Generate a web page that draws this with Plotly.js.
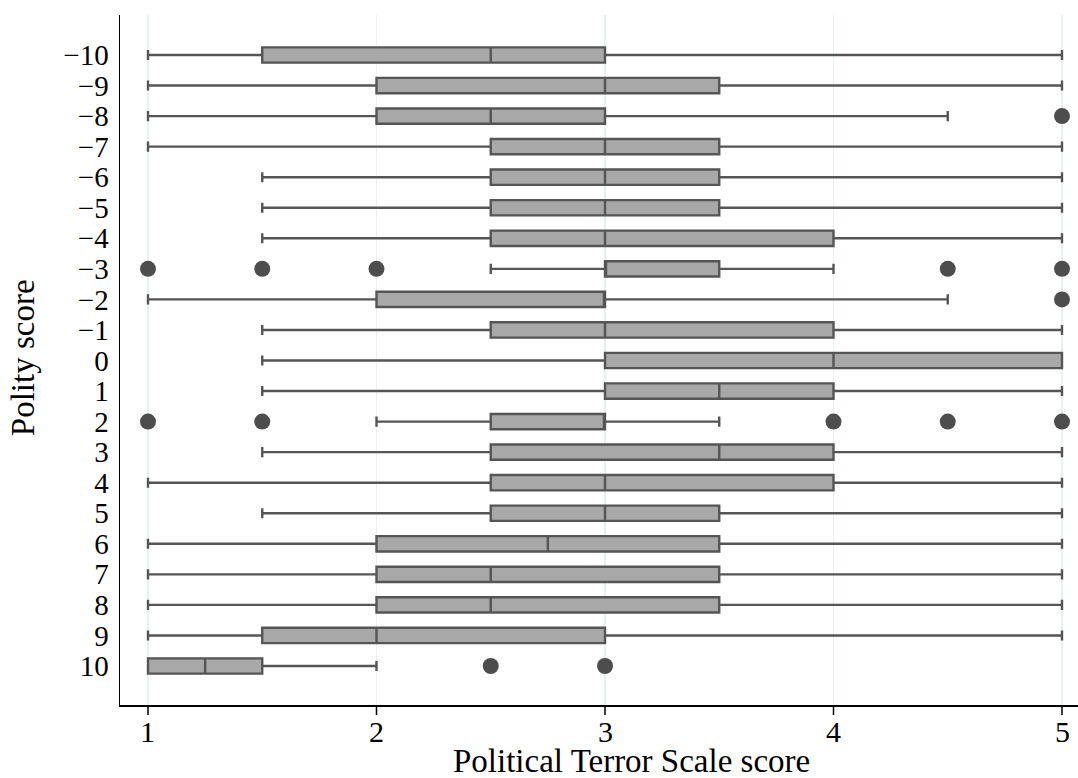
<!DOCTYPE html>
<html>
<head>
<meta charset="utf-8">
<script src="https://cdn.plot.ly/plotly-3.0.1.min.js"></script>
<style>html,body{margin:0;padding:0;background:#fff;}#chart{width:1078px;height:778px;}</style>
</head>
<body>
<div id="chart"></div>
<script>
// Polity scores (rows) and their box statistics on the Political Terror Scale
var polity = [-10, -9, -8, -7, -6, -5, -4, -3, -2, -1, 0, 1, 2, 3, 4, 5, 6, 7, 8, 9, 10];
var lowerFence = [1, 1, 1, 1, 1.5, 1.5, 1.5, 2.5, 1, 1.5, 1.5, 1.5, 2, 1.5, 1, 1.5, 1, 1, 1, 1, 1];
var q1Values   = [1.5, 2, 2, 2.5, 2.5, 2.5, 2.5, 3, 2, 2.5, 3, 3, 2.5, 2.5, 2.5, 2.5, 2, 2, 2, 1.5, 1];
var medians    = [2.5, 3, 2.5, 3, 3, 3, 3, 3, 3, 3, 4, 3.5, 3, 3.5, 3, 3, 2.75, 2.5, 2.5, 2, 1.25];
var q3Values   = [3, 3.5, 3, 3.5, 3.5, 3.5, 4, 3.5, 3, 4, 5, 4, 3, 4, 4, 3.5, 3.5, 3.5, 3.5, 3, 1.5];
var upperFence = [5, 5, 4.5, 5, 5, 5, 5, 4, 4.5, 5, 5, 5, 3.5, 5, 5, 5, 5, 5, 5, 5, 2];

// Outliers
var outlierPolity = [-8, -3, -3, -3, -3, -3, -2, 2, 2, 2, 2, 2, 10, 10];
var outlierPTS    = [5, 1, 1.5, 2, 4.5, 5, 5, 1, 1.5, 4, 4.5, 5, 2.5, 3];

var tickVals = polity;
var tickText = ["\u221210", "\u22129", "\u22128", "\u22127", "\u22126", "\u22125", "\u22124", "\u22123", "\u22122", "\u22121", "0", "1", "2", "3", "4", "5", "6", "7", "8", "9", "10"];
var xTicks = [1, 2, 3, 4, 5];
var xTickText = ["1", "2", "3", "4", "5"];
var xTitle = "Political Terror Scale score";
var yTitle = "Polity score";

var FONT = "Liberation Serif, Times New Roman, serif";

var boxTrace = {
  type: "box",
  orientation: "h",
  y: polity,
  q1: q1Values,
  median: medians,
  q3: q3Values,
  lowerfence: lowerFence,
  upperfence: upperFence,
  width: 0.5,
  whiskerwidth: 0.66,
  fillcolor: "#a8a8a8",
  line: {color: "#555555", width: 2.4},
  boxpoints: false,
  hoverinfo: "skip",
  showlegend: false
};

var outlierTrace = {
  type: "scatter",
  mode: "markers",
  x: outlierPTS,
  y: outlierPolity,
  marker: {color: "#4d4d4d", size: 16, line: {width: 0}},
  hoverinfo: "skip",
  showlegend: false,
  cliponaxis: false
};

// x-axis tick marks drawn below the axis line at the tick values
var tickShapes = xTicks.map(function (v) {
  return {
    type: "line", xref: "x", yref: "paper",
    x0: v, x1: v, y0: 0, y1: -10 / 690,
    line: {color: "#000000", width: 1.5}
  };
});

// x-axis tick labels placed just under the tick marks
var tickLabels = xTicks.map(function (v, i) {
  return {
    text: xTickText[i], xref: "x", yref: "paper",
    x: v, y: -0.038, xanchor: "center", yanchor: "middle",
    showarrow: false, font: {family: FONT, size: 30, color: "#000000"}
  };
});

var titleAnnotations = [
  {
    text: xTitle, xref: "paper", yref: "paper",
    x: 0.5344, y: -0.081, xanchor: "center", yanchor: "middle",
    showarrow: false, font: {family: FONT, size: 33, color: "#000000"}
  },
  {
    text: yTitle, xref: "paper", yref: "paper",
    x: -0.1013, y: 0.504, xanchor: "center", yanchor: "middle", textangle: -90,
    showarrow: false, font: {family: FONT, size: 33, color: "#000000"}
  }
];

var layout = {
  width: 1078,
  height: 778,
  margin: {l: 120, r: 0, t: 15, b: 73},
  paper_bgcolor: "#ffffff",
  plot_bgcolor: "#ffffff",
  font: {family: FONT, size: 29, color: "#000000"},
  showlegend: false,
  xaxis: {
    range: [0.8775, 5.070],
    tickvals: xTicks,
    showticklabels: false,
    ticks: "",
    showline: true,
    linecolor: "#000000",
    linewidth: 1.5,
    showgrid: true,
    gridcolor: "#e8f1f1",
    gridwidth: 1.5,
    zeroline: false
  },
  yaxis: {
    range: [11.277, -11.309],
    autorange: false,
    tickvals: tickVals,
    ticktext: tickText,
    ticks: "",
    showline: true,
    linecolor: "#000000",
    linewidth: 1.5,
    showgrid: false,
    zeroline: false,
    ticklabelstandoff: 4,
    tickfont: {family: FONT, size: 29}
  },
  shapes: tickShapes,
  annotations: tickLabels.concat(titleAnnotations)
};

Plotly.newPlot("chart", [boxTrace, outlierTrace], layout, {displayModeBar: false, staticPlot: true});
</script>
</body>
</html>
